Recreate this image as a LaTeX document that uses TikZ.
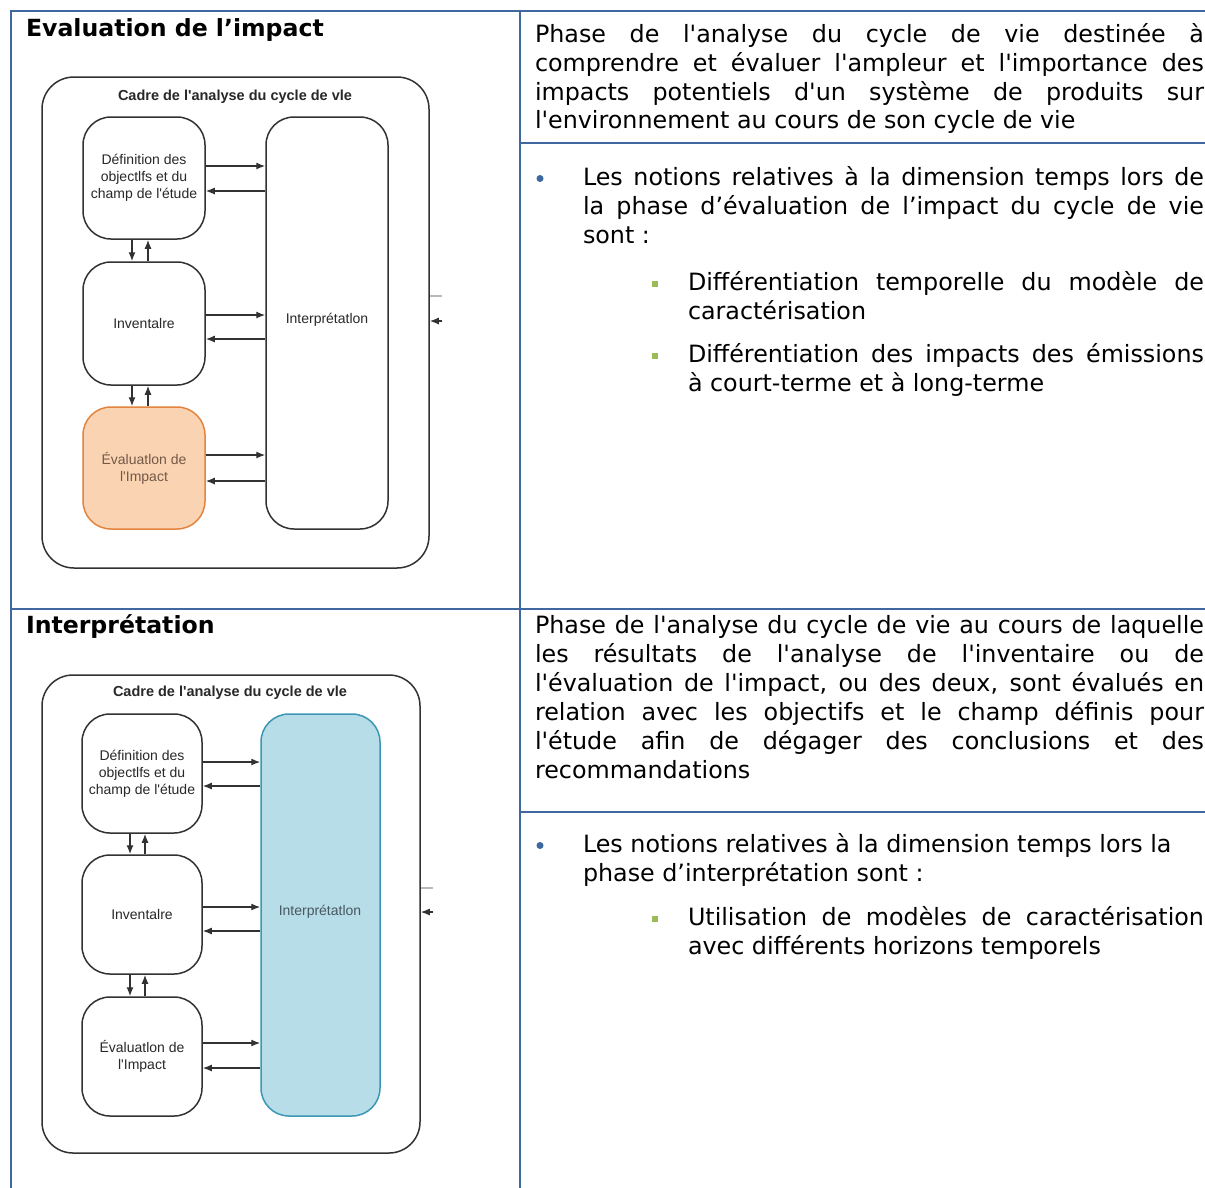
\documentclass[tikz,border=0pt]{standalone}
\usetikzlibrary{arrows.meta}
% Fonts loaded directly (no TeX ligature mapping, so straight quotes stay straight)
\font\bodyrm="DejaVu Sans" at 23.8pt
\font\headbf="DejaVu Sans/B" at 23.6pt
\font\diagrm="Liberation Sans" at 14pt
\font\diagbf="Liberation Sans/B" at 14.5pt
\newcommand\diaglines{\diagrm\baselineskip=17pt\relax}
\definecolor{tblline}{RGB}{62,104,158}
\definecolor{bulblue}{RGB}{62,104,160}
\definecolor{bulgreen}{RGB}{155,187,89}
\definecolor{diagline}{RGB}{50,50,50}
\definecolor{diagtext}{RGB}{40,40,40}
\definecolor{evalfill}{RGB}{250,212,178}
\definecolor{evaldraw}{RGB}{226,132,62}
\definecolor{evaltext}{RGB}{115,88,70}
\definecolor{interpfill}{RGB}{183,221,232}
\definecolor{interpdraw}{RGB}{60,150,180}
\definecolor{interptext}{RGB}{72,88,96}
\begin{document}
\begin{tikzpicture}[x=1pt,y=-1pt,
  rule/.style={draw=tblline,line width=2.2pt},
  body/.style={anchor=base west,inner sep=0pt,outer sep=0pt,font=\bodyrm},
  head/.style={anchor=base west,inner sep=0pt,outer sep=0pt,font=\headbf},
  cadre/.style={draw=diagline,line width=1.5pt,inner sep=0pt},
  cadretitle/.style={inner sep=0pt,font=\diagbf,text=diagtext},
  phase/.style={draw=diagline,line width=1.5pt,rounded corners=28pt,inner sep=0pt,
    align=center,text=diagtext,font=\diaglines},
  evalhl/.style={fill=evalfill,draw=evaldraw,text=evaltext},
  interphl/.style={fill=interpfill,draw=interpdraw,text=interptext},
  flow/.style={draw=diagline,line width=1.3pt,-{Latex[length=9pt,width=7pt]}},
  stub/.style={draw=gray!55,line width=1.6pt},
  puce/.style={circle,fill=bulblue,inner sep=0pt,minimum size=7pt},
  carre/.style={rectangle,fill=bulgreen,inner sep=0pt,minimum size=6pt}]

\fill[white] (0,0) rectangle (1205,1187);
\useasboundingbox (0,0) rectangle (1205,1187);

% ---------- table rules ----------
\draw[rule] (1206,11) -- (11,11) -- (11,1188);
\draw[rule] (520,11) -- (520,1188);
\draw[rule] (11,609) -- (1206,609);
\draw[rule] (520,143) -- (1206,143);
\draw[rule] (520,812) -- (1206,812);

% ---------- row 1, left: heading and LCA framework ----------
\node[head] (hEval) at (26,36) {Evaluation de l’impact};

\node[cadre,rounded corners=32pt,minimum width=387pt,minimum height=491pt] (cadre1) at (235.5,322.5) {};
\node[cadretitle] (titre1) at (235,97) {Cadre de l'analyse du cycle de vle};
\node[phase,minimum width=122pt,minimum height=122pt] (def1) at (144,178)
  {Définition des\\objectlfs et du\\champ de l'étude};
\node[phase,minimum width=122pt,minimum height=123pt] (inv1) at (144,323.5) {Inventalre};
\node[phase,evalhl,minimum width=122pt,minimum height=122pt] (eval1) at (144,468)
  {Évaluatlon de\\l'Impact};
\node[phase,minimum width=122pt,minimum height=412pt] (interp1) at (327,323) {};
\node[font=\diagrm,text=diagtext,inner sep=0pt] (interp1txt) at (327,320) {Interprétatlon};

\draw[flow] (def1.east |- 0,166) -- (interp1.west |- 0,166);
\draw[flow] (interp1.west |- 0,191) -- (def1.east |- 0,191);
\draw[flow] (def1.south -| 132,0) -- (inv1.north -| 132,0);
\draw[flow] (inv1.north -| 148,0) -- (def1.south -| 148,0);
\draw[flow] (inv1.east |- 0,315) -- (interp1.west |- 0,315);
\draw[flow] (interp1.west |- 0,339) -- (inv1.east |- 0,339);
\draw[flow] (inv1.south -| 132,0) -- (eval1.north -| 132,0);
\draw[flow] (eval1.north -| 148,0) -- (inv1.south -| 148,0);
\draw[flow] (eval1.east |- 0,455) -- (interp1.west |- 0,455);
\draw[flow] (interp1.west |- 0,481) -- (eval1.east |- 0,481);

\coordinate (bout1) at (442,296);
\draw[stub] (cadre1.east |- bout1) -- (bout1);
\coordinate (fleche1) at (442,321);
\draw[flow] (fleche1) -- (cadre1.east |- fleche1);

% ---------- row 1, right: definition and notes ----------
\node[body] (d1a) at (535,42.5) {\makebox[669pt][s]{Phase de l'analyse du cycle de vie destinée à}};
\node[body] (d1b) at (535,71) {\makebox[669pt][s]{comprendre et évaluer l'ampleur et l'importance des}};
\node[body] (d1c) at (535,100) {\makebox[669pt][s]{impacts potentiels d'un système de produits sur}};
\node[body] (d1d) at (535,128.5) {l'environnement au cours de son cycle de vie};

\node[puce] (p1) at (540,178.5) {};
\node[body] (n1a) at (583,185) {\makebox[621pt][s]{Les notions relatives à la dimension temps lors de}};
\node[body] (n1b) at (583,214) {\makebox[621pt][s]{la phase d’évaluation de l’impact du cycle de vie}};
\node[body] (n1c) at (583,243) {sont :};

\node[carre] (c1) at (655,283.5) {};
\node[body] (s1a) at (688,290) {\makebox[516pt][s]{Différentiation temporelle du modèle de}};
\node[body] (s1b) at (688,319) {caractérisation};
\node[carre] (c2) at (655,355.5) {};
\node[body] (s1c) at (688,362) {\makebox[516pt][s]{Différentiation des impacts des émissions}};
\node[body] (s1d) at (688,391) {à court-terme et à long-terme};

% ---------- row 2, left: heading and LCA framework ----------
\node[head] (hInterp) at (26,633) {Interprétation};

\node[cadre,rounded corners=31pt,minimum width=378pt,minimum height=478pt] (cadre2) at (231,914) {};
\node[cadretitle] (titre2) at (230,693) {Cadre de l'analyse du cycle de vle};
\node[phase,minimum width=120pt,minimum height=119pt] (def2) at (142,773.5)
  {Définition des\\objectlfs et du\\champ de l'étude};
\node[phase,minimum width=120pt,minimum height=119pt] (inv2) at (142,914.5) {Inventalre};
\node[phase,minimum width=120pt,minimum height=119pt] (eval2) at (142,1056.5)
  {Évaluatlon de\\l'Impact};
\node[phase,interphl,minimum width=119pt,minimum height=402pt] (interp2) at (320.5,915) {};
\node[font=\diagrm,text=interptext,inner sep=0pt] (interp2txt) at (320,912) {Interprétatlon};

\draw[flow] (def2.east |- 0,762) -- (interp2.west |- 0,762);
\draw[flow] (interp2.west |- 0,786) -- (def2.east |- 0,786);
\draw[flow] (def2.south -| 130,0) -- (inv2.north -| 130,0);
\draw[flow] (inv2.north -| 145,0) -- (def2.south -| 145,0);
\draw[flow] (inv2.east |- 0,907) -- (interp2.west |- 0,907);
\draw[flow] (interp2.west |- 0,931) -- (inv2.east |- 0,931);
\draw[flow] (inv2.south -| 130,0) -- (eval2.north -| 130,0);
\draw[flow] (eval2.north -| 145,0) -- (inv2.south -| 145,0);
\draw[flow] (eval2.east |- 0,1043) -- (interp2.west |- 0,1043);
\draw[flow] (interp2.west |- 0,1068) -- (eval2.east |- 0,1068);

\coordinate (bout2) at (433,888);
\draw[stub] (cadre2.east |- bout2) -- (bout2);
\coordinate (fleche2) at (433,912);
\draw[flow] (fleche2) -- (cadre2.east |- fleche2);

% ---------- row 2, right: definition and notes ----------
\node[body] (d2a) at (535,633) {\makebox[669pt][s]{Phase de l'analyse du cycle de vie au cours de laquelle}};
\node[body] (d2b) at (535,662) {\makebox[669pt][s]{les résultats de l'analyse de l'inventaire ou de}};
\node[body] (d2c) at (535,691) {\makebox[669pt][s]{l'évaluation de l'impact, ou des deux, sont évalués en}};
\node[body] (d2d) at (535,720) {\makebox[669pt][s]{relation avec les objectifs et le champ définis pour}};
\node[body] (d2e) at (535,749) {\makebox[669pt][s]{l'étude afin de dégager des conclusions et des}};
\node[body] (d2f) at (535,778) {recommandations};

\node[puce] (p2) at (540,845.5) {};
\node[body] (n2a) at (583,852) {Les notions relatives à la dimension temps lors la};
\node[body] (n2b) at (583,881) {phase d’interprétation sont :};

\node[carre] (c3) at (655,918.5) {};
\node[body] (s2a) at (688,925) {\makebox[516pt][s]{Utilisation de modèles de caractérisation}};
\node[body] (s2b) at (688,954) {avec différents horizons temporels};

\end{tikzpicture}
\end{document}
